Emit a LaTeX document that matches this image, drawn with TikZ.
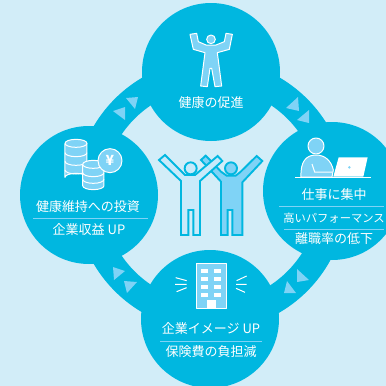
\documentclass[tikz,border=0pt]{standalone}
\usepackage{fontspec}
\setmainfont{Noto Sans CJK JP}
\definecolor{bgc}{HTML}{D2EDF8}
\definecolor{mainc}{HTML}{00B7E0}
\definecolor{lightc}{HTML}{7FD3F6}
\definecolor{pale}{HTML}{C8EAFA}
\tikzset{
 disc/.style={circle,fill=mainc,minimum size=#1,inner sep=0pt,draw=none},
 lab/.style={text=white,font=\fontsize{13}{13}\selectfont,inner sep=0pt,anchor=center},
 rule/.style={draw=lightc,line width=0.8pt},
 tri/.style={fill=lightc,draw=none},
 icon/.style={draw=white,fill=lightc,line width=1pt,line join=round},
 wl/.style={draw=white,line width=1pt},
 man/.style={draw=mainc,line width=1.9pt,line join=miter},
}
\begin{document}
\begin{tikzpicture}[x=1pt,y=-1pt]
\useasboundingbox (0,0) rectangle (386,386);
\fill[bgc] (0,0) rectangle (386,386);
\coordinate (ringc) at (211,195);
\fill[mainc,even odd rule] (ringc) circle[radius=136] (ringc) circle[radius=108];
\begin{scope}
\clip (0,0) rectangle (386,386);
\node[disc=138pt] (top) at (211,72) {};
\node[disc=138pt] (left) at (89,195) {};
\node[disc=138pt] (right) at (332,191) {};
\node[disc=138pt] (bottom) at (210,319) {};
\end{scope}
% triangles
\fill[tri] (126,98)--(138,97)--(135,109)--cycle;
\fill[tri] (113,111)--(125,107)--(125,120)--cycle;
\fill[tri] (298,97)--(286,108)--(299,111)--cycle;
\fill[tri] (309,110)--(297,120)--(309,123)--cycle;
\fill[tri] (113,267)--(125,271)--(114,280)--cycle;
\fill[tri] (124,281)--(137,282)--(127,293)--cycle;
\fill[tri] (297,269)--(309,280)--(297,282)--cycle;
\fill[tri] (287,281)--(296,293)--(284,293)--cycle;
% top figure
\begin{scope}[shift={(130,0)},scale=1/3]
\draw[icon] (243,118) circle[radius=13];
\draw[icon] (180,103)--(200,100)--(205,125)--(228,135)--(258,135)--(283,125)--(288,100)--(307,103)--(298,148)--(262,158)--(275,258)--(255,260)--(245,205)--(240,205)--(232,260)--(212,258)--(225,158)--(190,148)--cycle;
\end{scope}
% coins
\begin{scope}[shift={(20,120)},scale=1/3]
\draw[icon] (135,72) arc[start angle=180,end angle=360,x radius=33,y radius=12] -- (201,172) arc[start angle=0,end angle=180,x radius=33,y radius=-12] -- cycle;
\draw[icon] (168,70) ellipse[x radius=33,y radius=12];
\foreach \yy in {98,124,150}{\draw[wl] (135,\yy) arc[start angle=180,end angle=360,x radius=33,y radius=-12];}
\draw[icon] (188,135) -- (188,197) arc[start angle=180,end angle=360,x radius=32,y radius=-12] -- (252,135)-- cycle;
\draw[icon] (220,133) ellipse[x radius=32,y radius=12];
\foreach \yy in {158,178}{\draw[wl] (188,\yy) arc[start angle=180,end angle=360,x radius=32,y radius=-12];}
\draw[icon] (270,122) circle[radius=36];
\node[text=white,font=\fontsize{14}{14}\selectfont\bfseries,inner sep=0pt] (yen) at (270,122) {¥};
\end{scope}
% person + laptop
\begin{scope}[shift={(256,120)},scale=1/3]
\draw[icon] (180,78) circle[radius=24];
\draw[icon] (135,171) .. controls (133,125) and (150,105) .. (180,105) .. controls (205,105) and (225,120) .. (232,150) -- (228,171) -- cycle;
\draw[wl] (168,132) -- (176,156) -- (230,156);
\fill[white] (248,112) -- (335,112) -- (322,170) -- (232,170) -- cycle;
\fill[lightc] (280,142) circle[radius=4];
\draw[wl] (118,172) -- (345,172);
\end{scope}
% building
\begin{scope}[shift={(135,250)},scale=1/3]
\draw[icon] (183,40) rectangle (273,175);
\foreach \yy in {56,80,104,128}{
 \fill[white] (198,\yy) rectangle (218,\yy+12);
 \fill[white] (238,\yy) rectangle (258,\yy+12);}
\fill[white] (215,150) rectangle (242,175);
\draw[wl] (122,83)--(155,92) (120,103)--(155,103) (125,125)--(155,113);
\draw[wl] (335,78)--(305,92) (303,103)--(335,103) (303,115)--(330,127);
\end{scope}
% centre figures
\begin{scope}[shift={(145,145)},scale=1/3]
\draw[man,fill=lightc] (168,45)--(182,32)--(200,50)--(228,80)--(245,92)--(272,92)--(285,82)--(335,33)--(352,48)--(292,112)--(292,270)--(262,270)--(262,195)--(248,195)--(248,270)--(228,270)--(228,110)--cycle;
\draw[man,fill=lightc] (258,70) circle[radius=18];
\draw[man,fill=pale] (42,45)--(60,30)--(120,90)--(150,90)--(218,33)--(232,48)--(165,108)--(165,270)--(145,270)--(145,195)--(130,195)--(130,270)--(108,270)--(108,108)--cycle;
\draw[man,fill=pale] (137,70) circle[radius=18];
\end{scope}
% labels
\node[lab] (t1) at (211,103) {健康の促進};
\node[lab] (l1) at (88,207) {健康維持への投資};
\coordinate (lr1) at (33,218); \coordinate (lr2) at (148,218);
\draw[rule] (lr1)--(lr2);
\node[lab] (l2) at (89,230) {企業収益 UP};
\node[lab] (r1) at (334,195) {仕事に集中};
\coordinate (rr1) at (279,206); \coordinate (rr2) at (384,206);
\draw[rule] (rr1)--(rr2);
\node[lab,font=\fontsize{11.3}{12}\selectfont] (r2) at (334,218) {高いパフォーマンス};
\coordinate (rr3) at (284,229); \coordinate (rr4) at (384,229);
\draw[rule] (rr3)--(rr4);
\node[lab] (r3) at (334,239) {離職率の低下};
\node[lab] (b1) at (211,329) {企業イメージ UP};
\coordinate (br1) at (160,341); \coordinate (br2) at (262,341);
\draw[rule] (br1)--(br2);
\node[lab] (b2) at (211,352) {保険費の負担減};
\end{tikzpicture}
\end{document}
